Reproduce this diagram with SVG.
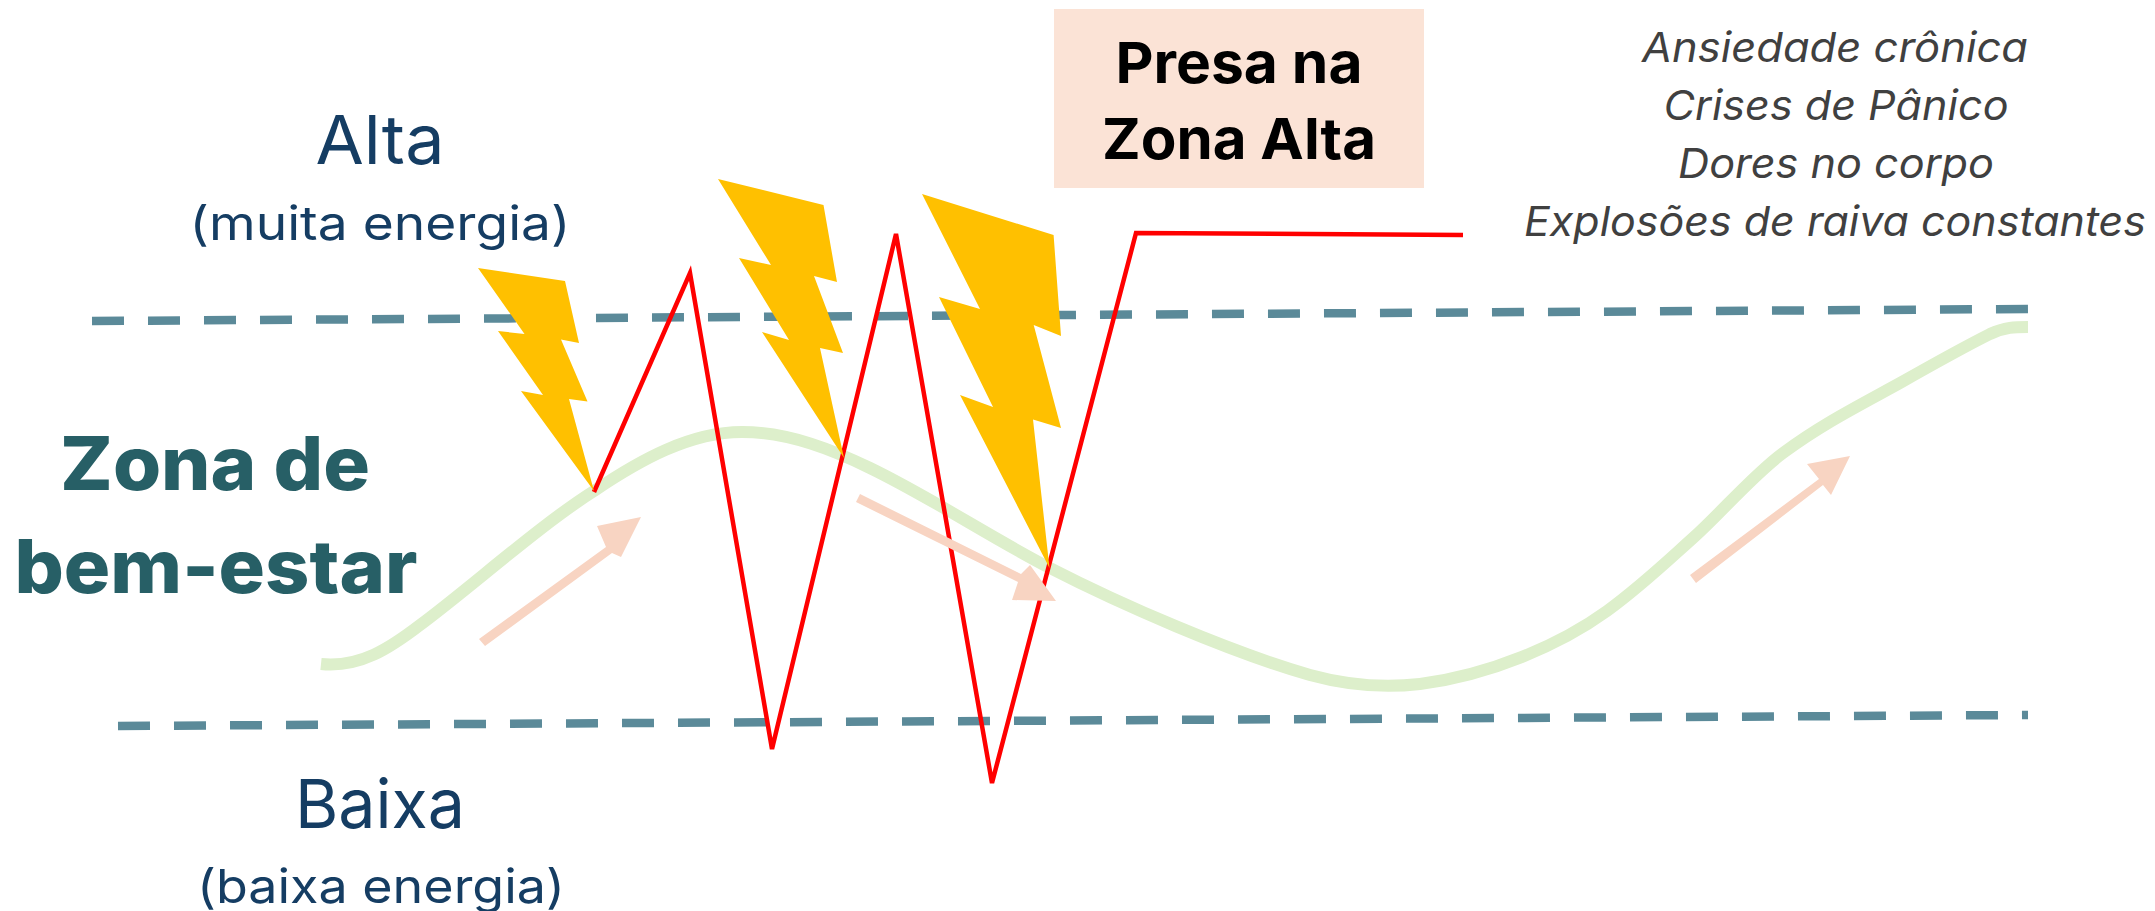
<svg xmlns="http://www.w3.org/2000/svg" width="2155" height="911" viewBox="0 0 2155 911">
<style>
text{font-family:"Inter","Open Sans","Liberation Sans",sans-serif;text-anchor:middle}
.lvl{fill:#153D63;font-size:68px}
.sub{fill:#153D63;font-size:47px}
.zone{fill:#275F66;font-size:74px;font-weight:800}
.box{fill:#000;font-size:57px;font-weight:700}
.sym{fill:#404040;font-size:41px;font-style:italic}
.dash{fill:none;stroke:#5B8A99;stroke-width:8.5;stroke-dasharray:32 24}
.curve{fill:none;stroke:#DDEFCB;stroke-width:12}
.zig{fill:none;stroke:#FF0000;stroke-width:4.5;stroke-linejoin:miter}
.bolt{fill:#FFC000}
.arr{fill:#F8D4C2}
</style>
<rect width="2155" height="911" fill="#fff"/>
<g id="labels">
<text class="lvl" x="380" y="164" textLength="129" lengthAdjust="spacingAndGlyphs">Alta</text>
<text class="sub" x="380" y="240" textLength="381" lengthAdjust="spacingAndGlyphs">(muita energia)</text>
<text class="zone" x="215" y="490" textLength="310" lengthAdjust="spacingAndGlyphs">Zona de</text>
<text class="zone" x="216" y="593" textLength="403" lengthAdjust="spacingAndGlyphs">bem-estar</text>
<text class="lvl" x="380" y="828" textLength="170" lengthAdjust="spacingAndGlyphs">Baixa</text>
<text class="sub" x="381" y="903" textLength="368" lengthAdjust="spacingAndGlyphs">(baixa energia)</text>
</g>
<g id="connectors">
<path class="dash" d="M92 321L2028 309"/>
<path class="dash" d="M118 726L2028 715"/>
<path class="curve" d="M321 664C360 668 390 648 420 625C470 588 540 525 594 491C640 460 690 432 742 432C790 432 835 451 870 468C930 497 990 537 1050 568C1120 604 1230 652 1310 675C1350 686 1385 688 1420 684C1490 675 1560 645 1607 611C1640 587 1663 565 1693 538C1720 514 1753 475 1783 453C1822 424 1860 405 1900 383C1930 366 1960 349 1990 334C2005 327 2015 327 2028 327"/>
<polyline class="zig" points="594,492 690,273 772,749 896,234 992,783 1136,233 1463,235"/>
<g id="arrow-1"><polygon class="arr" points="479,639 606,547 597,526 641,517 621,557 612,553 485,646"/></g>
<g id="arrow-2"><polygon class="arr" points="860,494 1021,574 1030,565 1056,601 1012,600 1018,582 856,502"/></g>
<g id="arrow-3"><polygon class="arr" points="1690,575 1819,479 1807,464 1850,456 1831,495 1823,485 1696,583"/></g>
</g>
<g id="bolt-1"><polygon class="bolt" points="478,268 565,281 579,343 561,339.5 587.5,401.6 569,399 594,491 521,391 543,395 498,331 524.5,334"/></g>
<g id="bolt-2"><polygon class="bolt" points="718,179 823.5,205 837,282 814,276 843,353 820,348 844,458 762,332 789,340 739,258 771,265"/></g>
<g id="bolt-3"><polygon class="bolt" points="922,194 1053.6,235 1061,336 1033.7,325 1061,428 1033,419.5 1049.5,568 960,395 993,407 939,297 980,309"/></g>
<g id="presa">
<rect x="1054" y="9" width="370" height="179" fill="#FBE3D6"/>
<text class="box" x="1239" y="83" textLength="247" lengthAdjust="spacingAndGlyphs">Presa na</text>
<text class="box" x="1239" y="159" textLength="274" lengthAdjust="spacingAndGlyphs">Zona Alta</text>
</g>
<g id="symptoms">
<text class="sym" x="1835" y="62" textLength="386" lengthAdjust="spacingAndGlyphs">Ansiedade crônica</text>
<text class="sym" x="1836" y="120" textLength="345" lengthAdjust="spacingAndGlyphs">Crises de Pânico</text>
<text class="sym" x="1836" y="178" textLength="316" lengthAdjust="spacingAndGlyphs">Dores no corpo</text>
<text class="sym" x="1835" y="236" textLength="622" lengthAdjust="spacingAndGlyphs">Explosões de raiva constantes</text>
</g>
</svg>
